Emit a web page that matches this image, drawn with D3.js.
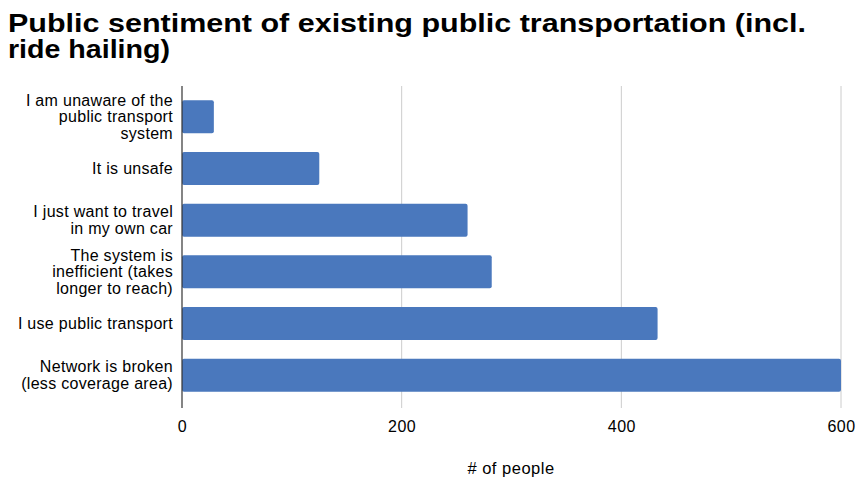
<!DOCTYPE html>
<html>
<head>
<meta charset="utf-8">
<script src="https://cdn.jsdelivr.net/npm/d3@7"></script>
<style>
  html, body { margin: 0; padding: 0; background: #fff; }
  svg { display: block; }
  text { font-family: "Liberation Sans", Arial, Helvetica, sans-serif; fill: #000; }
</style>
</head>
<body>
<svg id="chart" width="857" height="477"></svg>
<script>
// Survey answers, top to bottom
const categories = [
  ["I am unaware of the", "public transport", "system"],
  ["It is unsafe"],
  ["I just want to travel", "in my own car"],
  ["The system is", "inefficient (takes", "longer to reach)"],
  ["I use public transport"],
  ["Network is broken", "(less coverage area)"]
];
const values = [29, 125, 260, 282, 433, 600];
const xTicks = [0, 200, 400, 600];
const titleLines = ["Public sentiment of existing public transportation (incl.", "ride hailing)"];
const xTitle = "# of people";

const svg = d3.select("#chart");
const left = 182, right = 841;
const bandTop = 91, bandBottom = 401;
const gridTop = 86, gridBottom = 408;

const x = d3.scaleLinear().domain([0, 600]).range([left, right]);
const y = d3.scaleBand().domain(d3.range(categories.length))
  .range([bandTop, bandBottom]).paddingInner(0.36).paddingOuter(0.18);

// Title (two lines, condensed bold)
const title = svg.append("text").attr("font-weight", "bold").attr("font-size", 26.5);
title.append("tspan").attr("x", 8).attr("y", 31.5).text(titleLines[0])
  .attr("textLength", 798).attr("lengthAdjust", "spacingAndGlyphs");
title.append("tspan").attr("x", 8).attr("y", 57.5).text(titleLines[1])
  .attr("textLength", 162).attr("lengthAdjust", "spacingAndGlyphs");

// Vertical gridlines
svg.append("g").selectAll("line").data(xTicks.filter(d => d > 0)).join("line")
  .attr("x1", d => x(d)).attr("x2", d => x(d))
  .attr("y1", gridTop).attr("y2", gridBottom)
  .attr("stroke", "#cccccc").attr("stroke-width", 1);

// Bars
svg.append("g").selectAll("rect").data(values).join("rect")
  .attr("x", x(0))
  .attr("y", (d, i) => y(i))
  .attr("width", d => x(d) - x(0))
  .attr("height", y.bandwidth())
  .attr("rx", 2).attr("ry", 2)
  .attr("fill", "#4a78bd");

// Baseline axis
svg.append("line")
  .attr("x1", x(0)).attr("x2", x(0))
  .attr("y1", gridTop).attr("y2", gridBottom)
  .attr("stroke", "#333").attr("stroke-width", 1.2);

// Category labels
const lineH = 16.7;
const labels = svg.append("g").selectAll("text").data(categories).join("text")
  .attr("text-anchor", "end").attr("font-size", 16).attr("letter-spacing", 0.3);
labels.each(function(lines, i) {
  const cy = y(i) + y.bandwidth() / 2;
  const start = cy - (lines.length - 1) * lineH / 2;
  d3.select(this).selectAll("tspan").data(lines).join("tspan")
    .attr("x", 173)
    .attr("y", (d, j) => start + j * lineH)
    .attr("dy", "0.35em")
    .text(d => d);
});

// X axis tick labels
const xAxis = d3.axisBottom(x).tickValues(xTicks).tickSize(0).tickPadding(0);
const gx = svg.append("g").attr("transform", `translate(0,${gridBottom})`).call(xAxis);
gx.select(".domain").remove();
gx.selectAll("text")
  .attr("font-size", 16).attr("font-family", "'Liberation Sans', Arial, sans-serif")
  .attr("letter-spacing", 0.5)
  .attr("fill", "#000").attr("y", 18).attr("dy", "0.35em");

// X axis title
svg.append("text").attr("x", 511).attr("y", 468).attr("dy", "0.35em")
  .attr("text-anchor", "middle").attr("font-size", 16.5).attr("letter-spacing", 0.5).text(xTitle);
</script>
</body>
</html>
